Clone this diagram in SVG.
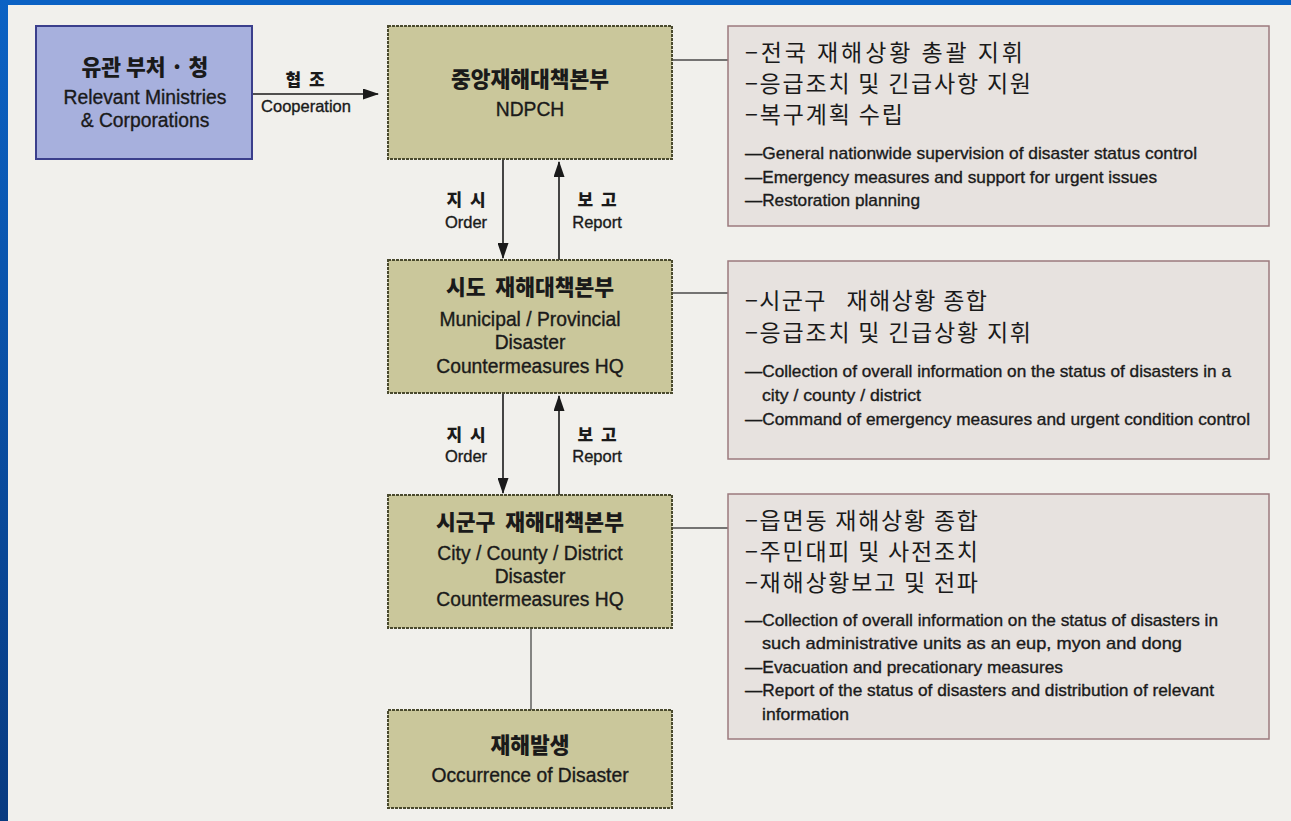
<svg xmlns="http://www.w3.org/2000/svg" width="1291" height="821" viewBox="0 0 1291 821">
<style>
.kr{font-family:"Noto Sans CJK KR","Liberation Sans",sans-serif;fill:#1a1a1a}
.en{font-family:"Liberation Sans","Noto Sans",sans-serif;fill:#1a1a1a;stroke:#1a1a1a;stroke-width:0.35}
.title{font-size:21.5px;font-weight:900;text-anchor:middle}
.sub{font-size:19.3px;text-anchor:middle}
.lblk{font-size:17px;font-weight:900;text-anchor:middle;letter-spacing:2px}
.lble{font-size:16.5px;text-anchor:middle}
.rk{font-size:23px}
.re{font-size:17px}
.blue{fill:#a7b0dd;stroke:#3b3f8c;stroke-width:2}
.olive{fill:#cac79b;stroke:#4a4a2e;stroke-width:2;stroke-dasharray:3 1}
.pink{fill:#e7e2df;stroke:#9c7a7e;stroke-width:1.5}
.ln{stroke:#1a1a1a;stroke-width:1.6;fill:none}
.thin{stroke:#4a4a4a;stroke-width:1.3;fill:none}
</style>
<defs>
<linearGradient id="bg" x1="0" y1="0" x2="0" y2="1">
<stop offset="0" stop-color="#0b62c4"/>
<stop offset="1" stop-color="#083a80"/>
</linearGradient>
<marker id="ah" markerUnits="userSpaceOnUse" markerWidth="16" markerHeight="11" refX="15" refY="5.5" orient="auto">
<path d="M0,0 L16,5.5 L0,11 z" fill="#1a1a1a"/>
</marker>
</defs>
<rect x="0" y="0" width="1291" height="821" fill="#f1f0ec"/>
<rect x="0" y="0" width="1291" height="5" fill="#0b62c4"/>
<rect x="0" y="0" width="8" height="821" fill="url(#bg)"/>

<g id="connectors">
<line class="ln" x1="252" y1="94" x2="378" y2="94" marker-end="url(#ah)"/>
<line class="ln" x1="503" y1="159" x2="503" y2="258" marker-end="url(#ah)"/>
<line class="ln" x1="559" y1="260" x2="559" y2="162" marker-end="url(#ah)"/>
<line class="ln" x1="503" y1="393" x2="503" y2="493" marker-end="url(#ah)"/>
<line class="ln" x1="559" y1="495" x2="559" y2="396" marker-end="url(#ah)"/>
<line class="thin" x1="531" y1="628" x2="531" y2="710"/>
<line class="thin" x1="672" y1="60" x2="728" y2="60"/>
<line class="thin" x1="672" y1="293" x2="728" y2="293"/>
<line class="thin" x1="672" y1="528" x2="728" y2="528"/>
<text class="kr lblk" x="306" y="86">협 조</text>
<text class="en lble" x="306" y="112">Cooperation</text>
<text class="kr lblk" x="467" y="206">지 시</text>
<text class="en lble" x="466" y="228">Order</text>
<text class="kr lblk" x="598" y="206">보 고</text>
<text class="en lble" x="597" y="228">Report</text>
<text class="kr lblk" x="467" y="441">지 시</text>
<text class="en lble" x="466" y="462">Order</text>
<text class="kr lblk" x="598" y="441">보 고</text>
<text class="en lble" x="597" y="462">Report</text>
</g>

<g id="ministries">
<rect class="blue" x="36" y="26" width="216" height="133"/>
<text class="kr title" x="145" y="75" xml:space="preserve">유관 부처 · 청</text>
<text class="en sub" x="145" y="104">Relevant Ministries</text>
<text class="en sub" x="145" y="127">&amp; Corporations</text>
</g>

<g id="ndpch">
<rect class="olive" x="388" y="26" width="284" height="133"/>
<text class="kr title" x="530" y="87">중앙재해대책본부</text>
<text class="en sub" x="530" y="116">NDPCH</text>
</g>

<g id="provincial">
<rect class="olive" x="388" y="260" width="284" height="133"/>
<text class="kr title" x="530" y="295" xml:space="preserve">시도  재해대책본부</text>
<text class="en sub" x="530" y="326">Municipal / Provincial</text>
<text class="en sub" x="530" y="349">Disaster</text>
<text class="en sub" x="530" y="373">Countermeasures HQ</text>
</g>

<g id="district">
<rect class="olive" x="388" y="495" width="284" height="133"/>
<text class="kr title" x="530" y="530" xml:space="preserve">시군구  재해대책본부</text>
<text class="en sub" x="530" y="560">City / County / District</text>
<text class="en sub" x="530" y="583">Disaster</text>
<text class="en sub" x="530" y="606">Countermeasures HQ</text>
</g>

<g id="occurrence">
<rect class="olive" x="388" y="710" width="284" height="98"/>
<text class="kr title" x="530" y="753">재해발생</text>
<text class="en sub" x="530" y="782">Occurrence of Disaster</text>
</g>

<g id="roles-central">
<rect class="pink" x="728" y="26" width="541" height="200"/>
<text class="kr rk" x="745" y="61" textLength="278">−전국 재해상황 총괄 지휘</text>
<text class="kr rk" x="745" y="92" textLength="286">−응급조치 및 긴급사항 지원</text>
<text class="kr rk" x="745" y="123" textLength="158">−복구계획 수립</text>
<text class="en re" x="745" y="159" textLength="452" lengthAdjust="spacingAndGlyphs">—General nationwide supervision of disaster status control</text>
<text class="en re" x="745" y="183" textLength="412" lengthAdjust="spacingAndGlyphs">—Emergency measures and support for urgent issues</text>
<text class="en re" x="745" y="206" textLength="175" lengthAdjust="spacingAndGlyphs">—Restoration planning</text>
</g>

<g id="roles-provincial">
<rect class="pink" x="728" y="261" width="541" height="198"/>
<text class="kr rk" x="745" y="309" xml:space="preserve" textLength="242">−시군구   재해상황 종합</text>
<text class="kr rk" x="745" y="341" textLength="286">−응급조치 및 긴급상황 지휘</text>
<text class="en re" x="745" y="377" textLength="486" lengthAdjust="spacingAndGlyphs">—Collection of overall information on the status of disasters in a</text>
<text class="en re" x="762" y="401" textLength="159" lengthAdjust="spacingAndGlyphs">city / county / district</text>
<text class="en re" x="745" y="425" textLength="505" lengthAdjust="spacingAndGlyphs">—Command of emergency measures and urgent condition control</text>
</g>

<g id="roles-district">
<rect class="pink" x="728" y="494" width="541" height="245"/>
<text class="kr rk" x="745" y="529" textLength="233">−읍면동 재해상황 종합</text>
<text class="kr rk" x="745" y="560" textLength="233">−주민대피 및 사전조치</text>
<text class="kr rk" x="745" y="591" textLength="233">−재해상황보고 및 전파</text>
<text class="en re" x="745" y="626" textLength="473" lengthAdjust="spacingAndGlyphs">—Collection of overall information on the status of disasters in</text>
<text class="en re" x="762" y="649" textLength="420" lengthAdjust="spacingAndGlyphs">such administrative units as an eup, myon and dong</text>
<text class="en re" x="745" y="673" textLength="318" lengthAdjust="spacingAndGlyphs">—Evacuation and precationary measures</text>
<text class="en re" x="745" y="696" textLength="469" lengthAdjust="spacingAndGlyphs">—Report of the status of disasters and distribution of relevant</text>
<text class="en re" x="762" y="720" textLength="87" lengthAdjust="spacingAndGlyphs">information</text>
</g>
</svg>
